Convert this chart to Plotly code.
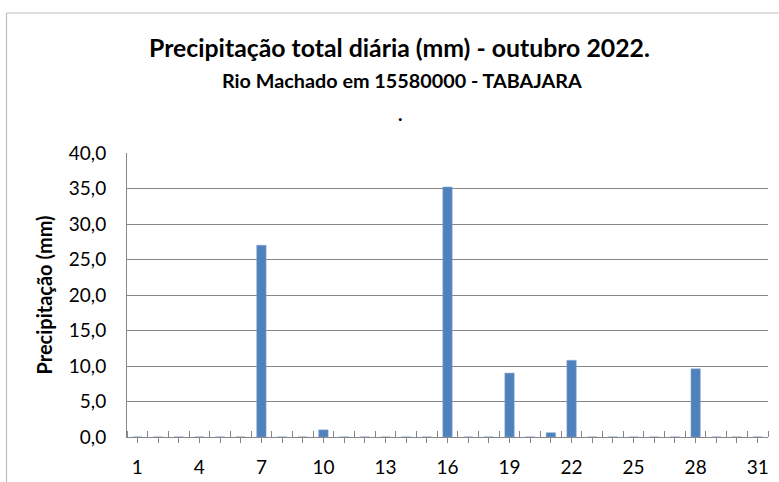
import plotly.graph_objects as go

days = list(range(1, 32))
precip = [0, 0, 0, 0, 0, 0, 27.0, 0, 0, 1.0, 0, 0, 0, 0, 0, 35.2, 0, 0, 9.0, 0,
          0.6, 10.8, 0, 0, 0, 0, 0, 9.6, 0, 0, 0]
x_labels = [str(d) if (d - 1) % 3 == 0 else "" for d in days]
y_ticks = [0, 5, 10, 15, 20, 25, 30, 35, 40]

title = "Precipitação total diária (mm) - outubro 2022."
subtitle = "Rio Machado em 15580000 - TABAJARA"
y_title = "Precipitação (mm)"

FONT = "Lato"
L, R, T, B = 127, 11, 153, 45
W, H = 779, 482
pw, ph = W - L - R, H - T - B

def px(x):
    return (x - L) / pw

def py(y):
    return (H - B - y) / ph

fig = go.Figure()
fig.add_trace(go.Bar(
    x=days, y=precip, width=0.45,
    marker=dict(color="#4F81BD", line=dict(color="#7DA2D0", width=0.6)),
    hoverinfo="x+y",
))

fig.update_layout(
    width=W, height=H,
    margin=dict(l=L, r=R, t=T, b=B, autoexpand=False),
    paper_bgcolor="white", plot_bgcolor="white",
    separators=",.",
    showlegend=False,
    font=dict(family=FONT, color="#000000"),
    xaxis=dict(
        range=[0.5, 31.5], tickmode="array", tickvals=days, ticktext=x_labels,
        ticks="outside", ticklen=5, tickcolor="#868686", tickwidth=1,
        showline=True, linecolor="#868686", linewidth=1,
        showgrid=False, zeroline=False, automargin=False,
        tickfont=dict(size=19, family=FONT, color="#000000"),
        ticklabelstandoff=8,
        minor=dict(tick0=0.5, dtick=1, ticks="inside", ticklen=6,
                   tickcolor="#868686", tickwidth=1, showgrid=False),
    ),
    yaxis=dict(
        range=[0, 40], tickmode="array", tickvals=y_ticks, tickformat=".1f",
        showline=True, linecolor="#868686", linewidth=1,
        showgrid=True, gridcolor="#868686", gridwidth=1,
        zeroline=False, ticks="", automargin=False,
        tickfont=dict(size=19, family=FONT, color="#000000"),
        ticklabelstandoff=16,
        title=dict(text="<b>" + y_title + "</b>",
                   font=dict(size=20, family=FONT, color="#000000"),
                   standoff=10),
    ),
)

# titles
fig.add_annotation(text="<b>" + title + "</b>", xref="paper", yref="paper",
                   x=px(399), y=py(47), showarrow=False,
                   xanchor="center", yanchor="middle",
                   font=dict(size=24.8, family=FONT, color="#000000"))
fig.add_annotation(text="<b>" + subtitle + "</b>", xref="paper", yref="paper",
                   x=px(402), y=py(80), showarrow=False,
                   xanchor="center", yanchor="middle",
                   font=dict(size=19.8, family=FONT, color="#000000"))
fig.add_annotation(text="<b>.</b>", xref="paper", yref="paper",
                   x=px(400), y=py(113), showarrow=False,
                   xanchor="center", yanchor="middle",
                   font=dict(size=19, family=FONT, color="#000000"))

# outer chart border (left and top)
fig.add_shape(type="line", xref="paper", yref="paper",
              x0=px(6.5), y0=py(13), x1=px(779), y1=py(13),
              line=dict(color="#BFBFBF", width=1.2))
fig.add_shape(type="line", xref="paper", yref="paper",
              x0=px(6.5), y0=py(13), x1=px(6.5), y1=py(482),
              line=dict(color="#BFBFBF", width=1.2))

fig.write_html("out.html", config={"displayModeBar": False},
               post_script="document.body.style.margin='0';document.body.style.overflow='hidden';")
